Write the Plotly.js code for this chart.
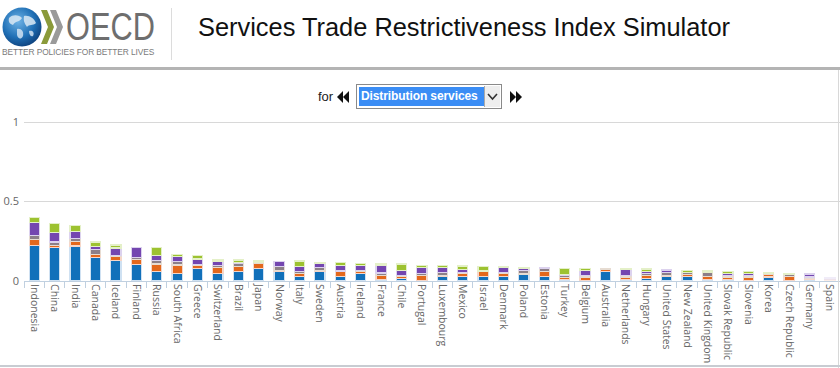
<!DOCTYPE html>
<html>
<head>
<meta charset="utf-8">
<script src="https://cdn.plot.ly/plotly-3.0.1.min.js"></script>
<style>
  html, body { margin:0; padding:0; background:#fff; }
  #wrap { position:relative; width:840px; height:368px; overflow:hidden; font-family:"Liberation Sans", Arial, sans-serif; }
  #chart { position:absolute; left:0; top:0; width:840px; height:368px; }
  #hdr { position:absolute; left:0; top:0; width:840px; height:71px; background:#fff; z-index:2; }
  #hdr .rule { position:absolute; left:0; top:67px; width:840px; height:3px; background:#b4b4b4; }
  #hdr .div { position:absolute; left:171px; top:8px; width:1px; height:52px; background:#dcdcdc; }
  #oecd { position:absolute; left:66px; top:13px; font-size:38px; line-height:28px; height:28px; color:#6e6e6e; transform:scaleX(0.81); transform-origin:0 0; }
  #tag { position:absolute; left:2px; top:48px; font-size:8.4px; line-height:8px; color:#7a7a7a; letter-spacing:-0.1px; white-space:nowrap; }
  #title { position:absolute; left:198px; top:13px; font-size:25.4px; color:#111; white-space:nowrap; }
  #ctrl { position:absolute; left:0; top:83px; width:840px; height:28px; z-index:2; }
  #for { position:absolute; left:318px; top:6px; font-size:13px; color:#222; }
  #sel { position:absolute; left:356px; top:1px; width:144px; height:23px; border:1px solid #8a8a8a; background:#fff; }
  #sel .hl { position:absolute; left:2px; top:2px; width:125px; height:19px; background:#3a8df5; color:#fff; font-weight:bold; font-size:12px; line-height:19px; padding-left:2px; box-sizing:border-box; white-space:nowrap; overflow:hidden; letter-spacing:-0.1px; }
  #sel .btn { position:absolute; right:1px; top:1px; width:15px; height:21px; border-left:1px solid #aaa; background:#eee; }
  #rb { position:absolute; left:838px; top:70px; width:1px; height:298px; background:#d8d8d8; z-index:2; }
  #bb { position:absolute; left:0; top:365px; width:840px; height:2px; background:#c8ccd2; z-index:2; }
</style>
</head>
<body>
<div id="wrap">
  <div id="chart"></div>
  <div id="hdr">
    <svg width="66" height="44" style="position:absolute;left:0;top:4px">
      <defs>
        <radialGradient id="g" cx="40%" cy="35%" r="70%">
          <stop offset="0%" stop-color="#6fb3e6"/>
          <stop offset="60%" stop-color="#1f6fb5"/>
          <stop offset="100%" stop-color="#0d3f7a"/>
        </radialGradient>
      </defs>
      <circle cx="22" cy="23" r="19.5" fill="url(#g)"/>
      <path d="M9,14 C13,10 19,11 22,14 C20,18 15,17 13,21 C10,20 8,18 9,14 Z" fill="#dbe9f5" opacity="0.85"/>
      <path d="M24,12 C29,11 34,14 36,19 C33,22 29,20 27,23 C25,20 23,17 24,12 Z" fill="#dbe9f5" opacity="0.85"/>
      <path d="M17,25 C21,24 24,27 23,32 C21,36 18,35 17,31 Z" fill="#dbe9f5" opacity="0.8"/>
      <path d="M29,27 C32,26 35,28 33,32 C31,33 29,31 29,27 Z" fill="#dbe9f5" opacity="0.8"/>
      <path d="M41,6 L47,6 L54,23 L47,40 L41,40 L48,23 Z" fill="#8a9a3a"/>
      <path d="M50,6 L56,6 L63,23 L56,40 L50,40 L57,23 Z" fill="#9a9a9a"/>
    </svg>
    <div id="oecd">OECD</div>
    <div id="tag">BETTER POLICIES FOR BETTER LIVES</div>
    <div class="div"></div>
    <div id="title">Services Trade Restrictiveness Index Simulator</div>
    <div class="rule"></div>
  </div>
  <div id="ctrl">
    <div id="for">for</div>
    <svg width="14" height="12" style="position:absolute;left:337px;top:8px"><polygon points="6,0 6,12 0,6" fill="#111"/><polygon points="12,0 12,12 6,6" fill="#111"/></svg>
    <div id="sel"><div class="hl">Distribution services</div><div class="btn"><svg width="15" height="21"><polyline points="3,8 7.5,13 12,8" fill="none" stroke="#333" stroke-width="1.6"/></svg></div></div>
    <svg width="14" height="12" style="position:absolute;left:510px;top:8px"><polygon points="0,0 0,12 6,6" fill="#111"/><polygon points="6,0 6,12 12,6" fill="#111"/></svg>
  </div>
  <div id="rb"></div>
  <div id="bb"></div>
</div>
<script>
const countries = ["Indonesia","China","India","Canada","Iceland","Finland","Russia","South Africa","Greece","Switzerland","Brazil","Japan","Norway","Italy","Sweden","Austria","Ireland","France","Chile","Portugal","Luxembourg","Mexico","Israel","Denmark","Poland","Estonia","Turkey","Belgium","Australia","Netherlands","Hungary","United States","New Zealand","United Kingdom","Slovak Republic","Slovenia","Korea","Czech Republic","Germany","Spain"];

const foreignEntry = [0.225,0.21,0.22,0.148,0.127,0.105,0.062,0.048,0.078,0.045,0.062,0.078,0.062,0.028,0.062,0.028,0.046,0.01,0.014,0,0.028,0.028,0.028,0.028,0.044,0.028,0.01,0,0.062,0.01,0.014,0.028,0.028,0.01,0.01,0,0.025,0,0.012,0];
const movementPeople = [0.035,0.015,0.03,0.017,0.03,0.03,0.045,0.053,0.02,0.042,0.028,0.033,0.005,0.018,0.005,0.03,0.015,0.025,0.012,0.035,0.008,0.018,0.03,0.018,0,0.034,0.01,0.025,0.008,0.015,0.022,0.008,0.015,0.02,0.015,0.025,0.014,0.03,0.005,0.008];
const otherDiscrim = [0.025,0.02,0.015,0.032,0.005,0.015,0.02,0.023,0.005,0.01,0.018,0.005,0.022,0.012,0.018,0.005,0.005,0.015,0.01,0.012,0.015,0.01,0.005,0.008,0.02,0.016,0.014,0.008,0.005,0.012,0.01,0.018,0.01,0.025,0.012,0.008,0.01,0.012,0.008,0];
const competition = [0.085,0.06,0.045,0.02,0.045,0.062,0.032,0.03,0.035,0.028,0.008,0,0.032,0.032,0.027,0.034,0.034,0.048,0.032,0.037,0.032,0.018,0,0.032,0.018,0.008,0.005,0.032,0,0.034,0.015,0.015,0,0,0.01,0.014,0,0,0.019,0.011];
const transparency = [0.03,0.055,0.04,0.028,0.02,0,0.053,0.015,0.02,0.007,0.016,0.01,0,0.036,0.006,0.019,0.011,0.009,0.039,0.012,0.015,0.02,0.027,0.004,0.004,0,0.041,0.015,0,0.004,0.014,0,0.012,0.008,0.012,0.012,0.006,0.006,0,0];

const seriesNames = ["Restrictions on foreign entry","Restrictions on the movement of people","Other discriminatory measures","Barriers to competition","Regulatory transparency"];
const seriesData = [foreignEntry, movementPeople, otherDiscrim, competition, transparency];
const seriesColors = ["#1170ba","#e3681c","#8c7f88","#7446b0","#9dc230"];
const edgeColors = ["#cfe1f2","#f6d6c8","#e6dcd2","#dcd2ee","#e4f0c8"];
const dimmed = "Spain";

const traces = seriesData.map((vals, i) => ({
  type: "bar",
  name: seriesNames[i],
  x: countries,
  y: vals.map(v => v === 0 ? null : v),
  marker: {
    color: seriesColors[i],
    opacity: countries.map(c => c === dimmed ? 0.4 : 1),
    line: { color: edgeColors[i], width: 1.2 }
  },
  hoverinfo: "x+y+name"
}));

const layout = {
  width: 840, height: 368,
  margin: { l: 24, r: 0, t: 115, b: 87 },
  barmode: "stack",
  bargap: 0.5,
  showlegend: false,
  paper_bgcolor: "rgba(0,0,0,0)",
  plot_bgcolor: "#fff",
  font: { family: "Open Sans, Liberation Sans, sans-serif", color: "#666", size: 11 },
  xaxis: {
    type: "category",
    tickangle: 90,
    tickson: "boundaries",
    ticks: "outside",
    ticklen: 6,
    tickcolor: "#c0d0e0",
    showline: true,
    linecolor: "#c0d0e0",
    showgrid: false,
    tickfont: { size: 10.5, color: "#666" },
    range: [-0.5, 39.5]
  },
  yaxis: {
    range: [0, 1.044],
    tickvals: [0, 0.5, 1],
    ticktext: ["0", "0.5", "1"],
    showgrid: true,
    gridcolor: "#d8d8d8",
    zeroline: false,
    showline: false,
    ticks: "",
    ticklabelstandoff: 4,
    tickfont: { size: 11, color: "#666" }
  }
};

Plotly.newPlot("chart", traces, layout, { displayModeBar: false, staticPlot: true });
</script>
</body>
</html>
